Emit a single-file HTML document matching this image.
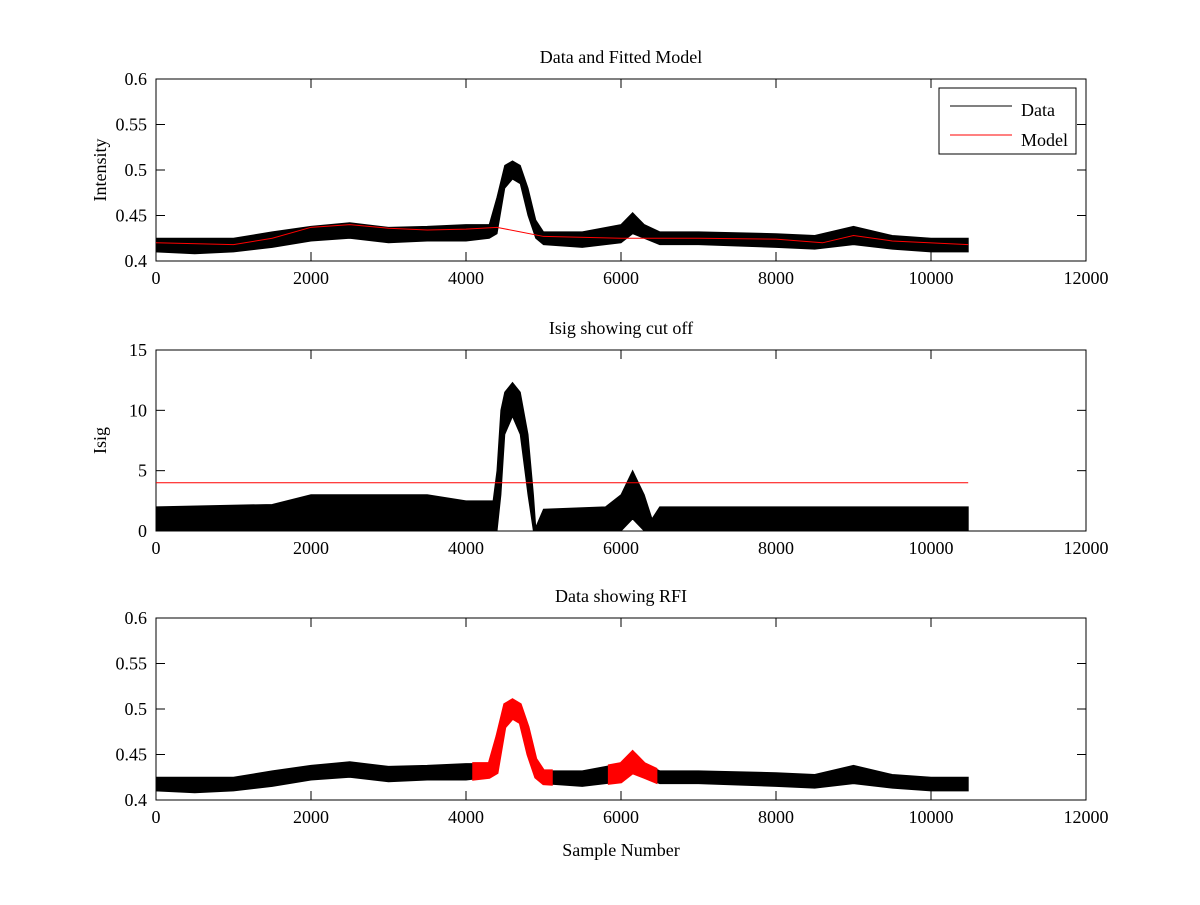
<!DOCTYPE html>
<html><head><meta charset="utf-8"><style>
body{margin:0;background:#fff;}
svg text{font-family:"Liberation Serif",serif;font-size:18px;fill:#000;}
</style></head><body>
<svg id="fig" width="1200" height="900" viewBox="0 0 1200 900"></svg>
<script>
// ---- data ----
const dataX=[0,500,1000,1500,2000,2500,3000,3500,4000,4300,4400,4500,4600,4700,4800,4900,5000,5500,6000,6150,6300,6500,7000,8000,8500,9000,9500,10000,10480];
const dataLo=[0.41,0.408,0.41,0.415,0.422,0.425,0.42,0.422,0.422,0.425,0.43,0.48,0.49,0.485,0.45,0.425,0.418,0.415,0.42,0.43,0.425,0.418,0.418,0.415,0.413,0.418,0.413,0.41,0.41];
const dataHi=[0.425,0.425,0.425,0.432,0.438,0.442,0.437,0.438,0.44,0.44,0.47,0.505,0.51,0.505,0.48,0.445,0.432,0.432,0.44,0.453,0.44,0.432,0.432,0.43,0.428,0.438,0.428,0.425,0.425];
const modelX=[0,1000,1500,2000,2500,3000,3500,4000,4400,4700,5000,6000,7000,8000,8600,9000,9500,10480];
const modelY=[0.42,0.418,0.425,0.437,0.44,0.436,0.434,0.435,0.437,0.432,0.427,0.425,0.425,0.424,0.42,0.428,0.422,0.418];
const isigX=[0,1500,2000,3000,3500,4000,4350,4400,4450,4500,4600,4700,4800,4870,4900,5000,5800,6000,6150,6300,6400,6500,10480];
const isigLo=[0,0,0,0,0,0,0,0,3,8,9.5,8,3,0,0,0,0,0,1,0,0,0,0];
const isigHi=[2,2.2,3,3,3,2.5,2.5,5,10,11.5,12.3,11.5,8,3,0.3,1.8,2,3,5,3,1,2,2];
const cutoff=4, cutoffEnd=10480;
const rfiRanges=[[4100,5100],[5850,6450]];
const xTicks=[0,2000,4000,6000,8000,10000,12000];
const yTicksI=[0.4,0.45,0.5,0.55,0.6], yLabI=["0.4","0.45","0.5","0.55","0.6"];
const yTicksS=[0,5,10,15];
// ---- layout ----
const NS="http://www.w3.org/2000/svg", svg=document.getElementById('fig');
const X0=156,X1=1086;
function mk(t,a,p){const e=document.createElementNS(NS,t);for(const k in a)e.setAttribute(k,a[k]);(p||svg).appendChild(e);return e;}
function panel(top,bot,ymin,ymax,yt,yl,title,ylabel,name){
 const g=mk('g',{});
 
 
 const sx=v=>X0+(v/12000)*(X1-X0), sy=v=>bot-(v-ymin)/(ymax-ymin)*(bot-top);
 const r=mk('rect',{x:X0,y:top,width:X1-X0,height:bot-top,fill:'#fff',stroke:'#000','stroke-width':1},g);
 
 xTicks.forEach(v=>{const x=sx(v);mk('line',{x1:x,x2:x,y1:bot,y2:bot-9,stroke:'#000'},g);mk('line',{x1:x,x2:x,y1:top,y2:top+9,stroke:'#000'},g);
  const t=mk('text',{x:x,y:bot+23,'text-anchor':'middle'},g);t.textContent=v;});
 yt.forEach((v,i)=>{const y=sy(v);mk('line',{x1:X0,x2:X0+9,y1:y,y2:y,stroke:'#000'},g);mk('line',{x1:X1,x2:X1-9,y1:y,y2:y,stroke:'#000'},g);
  const t=mk('text',{x:X0-9,y:y+6,'text-anchor':'end'},g);t.textContent=yl[i];});
 const tt=mk('text',{x:(X0+X1)/2,y:top-16,'text-anchor':'middle'},g);tt.textContent=title;
 const yy=(top+bot)/2;const yl2=mk('text',{x:0,y:0,'text-anchor':'middle',transform:`translate(${X0-50},${yy}) rotate(-90)`},g);yl2.textContent=ylabel;
 
 return {g,sx,sy};
}
function band(p,xs,lo,hi,col,name,x0,x1){
 let pts=[],back=[];
 const inR=v=>x0===undefined||(v>=x0&&v<=x1);
 const lerp=(a,v)=>{for(let i=0;i<xs.length-1;i++)if(v>=xs[i]&&v<=xs[i+1]){const f=(v-xs[i])/(xs[i+1]-xs[i]);return a[i]+f*(a[i+1]-a[i]);}return a[a.length-1];};
 let xx=xs.filter(inR); if(x0!==undefined){xx=[x0,...xx,x1];}
 xx.forEach(v=>{pts.push(p.sx(v)+','+p.sy(lerp(hi,v)));back.unshift(p.sx(v)+','+p.sy(lerp(lo,v)));});
 const e=mk('polygon',{points:pts.concat(back).join(' '),fill:col,stroke:col,'stroke-width':x0!==undefined?3:1},p.g);
 
}
function line(p,xs,ys,col,name){const e=mk('polyline',{points:xs.map((v,i)=>p.sx(v)+','+p.sy(ys[i])).join(' '),fill:'none',stroke:col,'stroke-width':1},p.g);
 }
// panel 1
const p1=panel(79,261,0.4,0.6,yTicksI,yLabI,'Data and Fitted Model','Intensity','panel-fitted-model');
band(p1,dataX,dataLo,dataHi,'#000','data-series');
line(p1,modelX,modelY,'#f00','model-series');
const lg=mk('g',{},p1.g);
mk('rect',{x:939,y:88,width:137,height:66,fill:'#fff',stroke:'#000'},lg);
mk('line',{x1:950,x2:1012,y1:106,y2:106,stroke:'#000'},lg);
mk('line',{x1:950,x2:1012,y1:135,y2:135,stroke:'#f00'},lg);
let t=mk('text',{x:1021,y:116},lg);t.textContent='Data';
t=mk('text',{x:1021,y:146},lg);t.textContent='Model';
// panel 2
const p2=panel(350,531,0,15,yTicksS,yTicksS.map(String),'Isig showing cut off','Isig','panel-isig');
band(p2,isigX,isigLo,isigHi,'#000','isig-series');
line(p2,[0,cutoffEnd],[cutoff,cutoff],'#f00','cutoff-line');
// panel 3
const p3=panel(618,800,0.4,0.6,yTicksI,yLabI,'Data showing RFI','','panel-rfi');
band(p3,dataX,dataLo,dataHi,'#000','data-series');
rfiRanges.forEach(r=>band(p3,dataX,dataLo,dataHi,'#f00','rfi-region',r[0],r[1]));
t=mk('text',{x:621,y:856,'text-anchor':'middle'});t.textContent='Sample Number';
</script>
</body></html>
